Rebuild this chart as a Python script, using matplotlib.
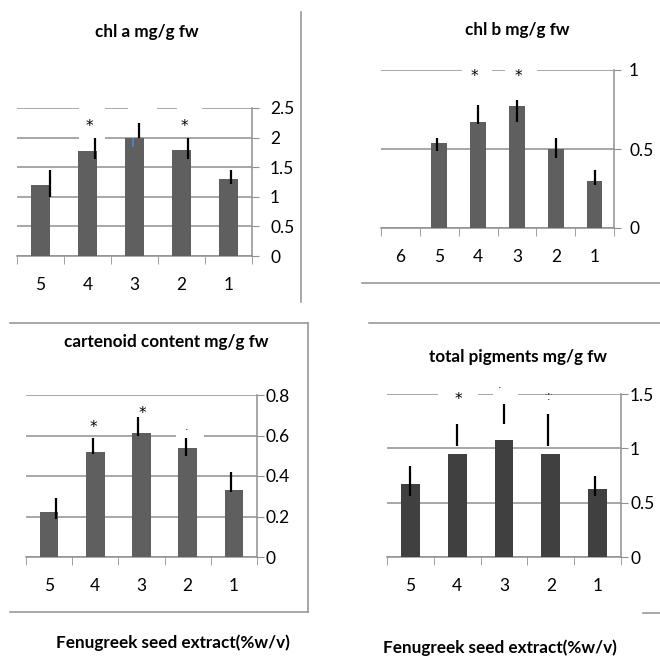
import matplotlib
matplotlib.use("Agg")
import matplotlib.pyplot as plt
from matplotlib.lines import Line2D
from matplotlib.patches import Rectangle

plt.rcParams['font.family'] = ['Lato', 'DejaVu Sans']

W = 660.0
GRID = '#8f8f8f'

# chl a
cats_a = ['5', '4', '3', '2', '1']
vals_a = [1.2, 1.78, 2.0, 1.79, 1.3]
err_lo_a = [1.0, 1.64, 2.0, 1.64, 1.22]
err_hi_a = [1.45, 2.0, 2.25, 2.0, 1.45]

# chl b
cats_b = ['6', '5', '4', '3', '2', '1']
vals_b = [0, 0.54, 0.67, 0.77, 0.50, 0.30]
err_lo_b = [0, 0.49, 0.66, 0.67, 0.44, 0.27]
err_hi_b = [0, 0.57, 0.78, 0.81, 0.57, 0.37]

# carotenoids
cats_c = ['5', '4', '3', '2', '1']
vals_c = [0.22, 0.52, 0.61, 0.54, 0.33]
err_lo_c = [0.19, 0.51, 0.60, 0.50, 0.32]
err_hi_c = [0.29, 0.59, 0.69, 0.59, 0.42]

# total pigments
cats_t = ['5', '4', '3', '2', '1']
vals_t = [0.67, 0.95, 1.08, 0.95, 0.63]
err_lo_t = [0.56, 1.02, 1.22, 1.02, 0.56]
err_hi_t = [0.84, 1.22, 1.41, 1.32, 0.75]

fig = plt.figure(figsize=(6.6, 6.6), dpi=100)

BOLD = dict(ha='center', va='center', fontsize=12.3, fontweight='bold')


def px_axes(l, r, y0, ytop):
    return fig.add_axes([l / W, 1 - y0 / W, (r - l) / W, (y0 - ytop) / W])


def fig_line(x0, x1, y0, y1):
    fig.add_artist(Line2D([x0 / W, x1 / W], [1 - y0 / W, 1 - y1 / W],
                          color=GRID, lw=1.1))


def panel(ax, cats, vals, lo, hi, ymax, yticks, color, err_dx, ypad):
    n = len(cats)
    x = list(range(n))
    ax.bar(x, vals, width=0.4, color=color, zorder=2)
    ex = [i + d for i, d in zip(x, err_dx)]
    ax.vlines(ex, lo, hi, color='black', lw=1.6, zorder=4)
    ax.set_xlim(-0.5, n - 0.5)
    ax.set_ylim(0, ymax)
    ax.set_yticks(yticks)
    ax.set_yticklabels([f'{t:g}' for t in yticks])
    ax.yaxis.tick_right()
    ax.yaxis.grid(True, color=GRID, lw=1.1, zorder=0)
    ax.set_axisbelow(True)
    ax.set_xticks(x)
    ax.set_xticklabels(cats)
    ax.set_xticks([i - 0.5 for i in range(n + 1)], minor=True)
    ax.tick_params(axis='x', which='major', length=0, pad=15, labelsize=12.5)
    ax.tick_params(axis='x', which='minor', length=6, color=GRID, direction='out')
    ax.tick_params(axis='y', length=5, color=GRID, pad=ypad, labelsize=12.5)
    for s in ['left', 'top']:
        ax.spines[s].set_visible(False)
    for s in ['right', 'bottom']:
        ax.spines[s].set_color(GRID)
        ax.spines[s].set_linewidth(1.1)
        ax.spines[s].set_zorder(1)


def gap(ax, x0, x1, y0, y1):
    ax.add_patch(Rectangle((x0, y0), x1 - x0, y1 - y0, facecolor='white',
                           edgecolor='none', zorder=2.5, clip_on=False))


def star(ax, x, y, partial=False):
    ax.annotate('*', (x, y), xytext=(0, -3), textcoords='offset points',
                ha='center', va='center', fontsize=11, family='DejaVu Sans',
                zorder=2.2 if partial else 5, annotation_clip=False)


# panel 1: chl a
ax1 = px_axes(17, 252, 256, 108)
panel(ax1, cats_a, vals_a, err_lo_a, err_hi_a, 2.5, [0, 0.5, 1, 1.5, 2, 2.5],
      '#5f5f5f', [0.2, 0.16, 0.1, 0.14, 0.05], 8)
ax1.vlines([1.97], [1.84], [2.0], color='#4f81bd', lw=1.4, zorder=4)
gap(ax1, 0.82, 1.37, 1.95, 2.56)
gap(ax1, 1.86, 2.48, 2.3, 2.56)
gap(ax1, 2.9, 3.44, 2.05, 2.56)
star(ax1, 1.03, 2.25)
star(ax1, 3.07, 2.25)
fig.text(147 / W, 1 - 32 / W, 'chl a mg/g fw', **BOLD)
fig_line(300.5, 300.5, 12, 302)

# panel 2: chl b
ax2 = px_axes(381, 614, 228, 70)
panel(ax2, cats_b, vals_b, err_lo_b, err_hi_b, 1, [0, 0.5, 1],
      '#5f5f5f', [0, -0.05, 0, 0, 0, 0], 5.8)
gap(ax2, 1.59, 2.36, 0.95, 1.05)
gap(ax2, 2.7, 3.52, 0.95, 1.05)
star(ax2, 1.9, 0.987)
star(ax2, 3.03, 0.987)
fig.text(517 / W, 1 - 30 / W, 'chl b mg/g fw', **BOLD)
fig_line(362, 660, 283, 283)

# panel 3: carotenoids
ax3 = px_axes(26, 257, 557, 395)
panel(ax3, cats_c, vals_c, err_lo_c, err_hi_c, 0.8, [0, 0.2, 0.4, 0.6, 0.8],
      '#5f5f5f', [0.16, -0.06, -0.08, -0.04, -0.07], 1)
gap(ax3, 2.74, 3.36, 0.595, 0.625)
star(ax3, 0.95, 0.662)
star(ax3, 2.01, 0.731)
star(ax3, 2.98, 0.615, partial=True)
fig.text(166 / W, 1 - 342 / W, 'cartenoid content mg/g fw', **BOLD)
fig.text(173 / W, 1 - 643 / W, 'Fenugreek seed extract(%w/v)', **BOLD)
fig_line(10, 308, 323, 323)
fig_line(308, 308, 323, 612)
fig_line(10, 308, 612, 612)

# panel 4: total pigments
ax4 = px_axes(387, 621, 557, 394)
panel(ax4, cats_t, vals_t, err_lo_t, err_hi_t, 1.5, [0, 0.5, 1, 1.5],
      '#404040', [0, 0, 0, -0.05, -0.05], 1.5)
gap(ax4, 0.59, 1.44, 1.45, 1.56)
gap(ax4, 1.76, 2.30, 1.45, 1.555)
gap(ax4, 2.70, 3.24, 1.45, 1.49)
star(ax4, 1.02, 1.49)
star(ax4, 1.91, 1.535, partial=True)
star(ax4, 2.94, 1.48, partial=True)
fig.text(518 / W, 1 - 357 / W, 'total pigments mg/g fw', **BOLD)
fig.text(500 / W, 1 - 648 / W, 'Fenugreek seed extract(%w/v)', **BOLD)
fig_line(369, 660, 323, 323)
fig_line(643, 660, 613, 613)

fig.savefig('out.png', dpi=100)
